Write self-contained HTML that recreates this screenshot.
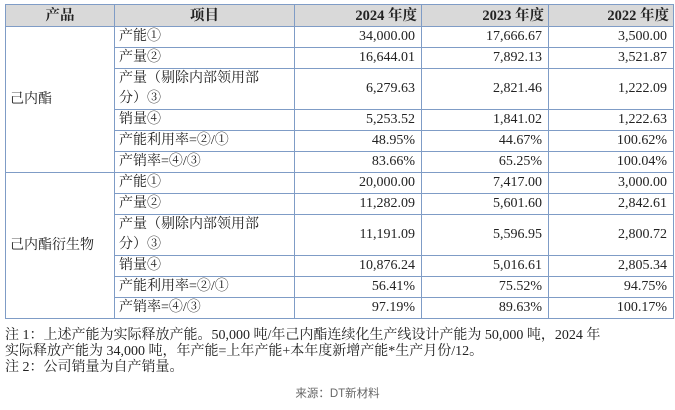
<!DOCTYPE html>
<html><head><meta charset="utf-8"><style>
body{margin:0;width:675px;height:410px;background:#fff;position:relative;overflow:hidden;font-family:"Liberation Serif","Noto Serif CJK SC",serif;color:#222}
table{position:absolute;left:5px;top:4px;border-collapse:collapse;font-size:14px}
td,th{border:1px solid #7f9cc6;padding:0 4px;height:20px;line-height:20px}
th{background:#d9d9d9;font-weight:bold;height:21px;font-size:14.5px}
td.n{text-align:right;padding-right:6px}
td.l{line-height:20px}
.note{position:absolute;left:5px;font-size:14px;white-space:nowrap}
.src{position:absolute;top:385px;left:0;width:675px;text-align:center;font-family:"Liberation Sans","Noto Sans CJK SC",sans-serif;font-size:11.5px;color:#666}
</style></head><body>
<table>
<colgroup><col style="width:109px"><col style="width:180px"><col style="width:127px"><col style="width:127px"><col style="width:125px"></colgroup>
<tr><th>产品</th><th>项目</th><th style="text-align:right">2024 年度</th><th style="text-align:right">2023 年度</th><th style="text-align:right">2022 年度</th></tr>
<tr><td rowspan="6">己内酯</td><td>产能①</td><td class="n">34,000.00</td><td class="n">17,666.67</td><td class="n">3,500.00</td></tr>
<tr><td>产量②</td><td class="n">16,644.01</td><td class="n">7,892.13</td><td class="n">3,521.87</td></tr>
<tr><td class="l" style="height:40px">产量（剔除内部领用部<br>分）③</td><td class="n">6,279.63</td><td class="n">2,821.46</td><td class="n">1,222.09</td></tr>
<tr><td>销量④</td><td class="n">5,253.52</td><td class="n">1,841.02</td><td class="n">1,222.63</td></tr>
<tr><td>产能利用率=②/①</td><td class="n">48.95%</td><td class="n">44.67%</td><td class="n">100.62%</td></tr>
<tr><td>产销率=④/③</td><td class="n">83.66%</td><td class="n">65.25%</td><td class="n">100.04%</td></tr>
<tr><td rowspan="6">己内酯衍生物</td><td>产能①</td><td class="n">20,000.00</td><td class="n">7,417.00</td><td class="n">3,000.00</td></tr>
<tr><td>产量②</td><td class="n">11,282.09</td><td class="n">5,601.60</td><td class="n">2,842.61</td></tr>
<tr><td class="l" style="height:40px">产量（剔除内部领用部<br>分）③</td><td class="n">11,191.09</td><td class="n">5,596.95</td><td class="n">2,800.72</td></tr>
<tr><td>销量④</td><td class="n">10,876.24</td><td class="n">5,016.61</td><td class="n">2,805.34</td></tr>
<tr><td>产能利用率=②/①</td><td class="n">56.41%</td><td class="n">75.52%</td><td class="n">94.75%</td></tr>
<tr><td>产销率=④/③</td><td class="n">97.19%</td><td class="n">89.63%</td><td class="n">100.17%</td></tr>
</table>
<div class="note" style="top:324px">注 1：上述产能为实际释放产能。50,000 吨/年己内酯连续化生产线设计产能为 50,000 吨，2024 年</div>
<div class="note" style="top:340px">实际释放产能为 34,000 吨，年产能=上年产能+本年度新增产能*生产月份/12。</div>
<div class="note" style="top:356px">注 2：公司销量为自产销量。</div>
<div class="src">来源：DT新材料</div>
</body></html>
